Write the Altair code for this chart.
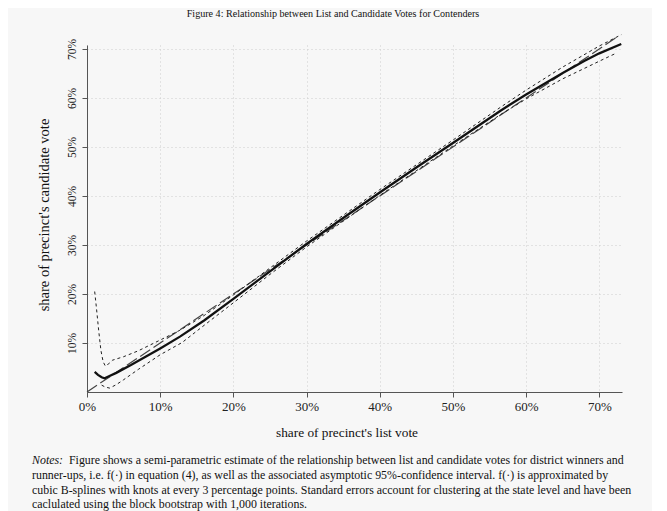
import altair as alt
import pandas as pd

# ---- data (percent units) ----
est_x = [1.05, 1.5, 2.0, 2.4, 3.0, 4.0, 6.0, 8.0, 10.0, 12.7, 16, 20, 25, 30, 35, 40, 45, 50, 56.5, 60, 65, 68, 70, 73]
est_y = [4.1, 3.5, 3.0, 2.8, 3.2, 3.9, 5.5, 7.2, 8.9, 11.3, 14.6, 19.0, 24.6, 30.2, 35.5, 40.7, 45.8, 50.8, 57.4, 60.7, 65.1, 67.6, 69.1, 71.0]

up_x = [1.05, 1.3, 1.6, 1.9, 2.2, 2.5, 3.0, 3.5, 5, 7, 10, 12.7, 16, 20, 25, 30, 40, 50, 56.5, 60, 65, 70, 73]
up_y = [20.5, 17.0, 12.5, 8.5, 6.2, 5.3, 5.8, 6.5, 7.2, 8.4, 10.6, 12.6, 15.6, 19.8, 25.3, 30.8, 41.3, 51.4, 58.1, 61.6, 66.3, 70.6, 72.9]

lo_x = [2.0, 2.5, 3.1, 4, 5, 7, 10, 13, 16, 20, 25, 30, 40, 50, 56.5, 60, 65, 70, 72.4]
lo_y = [1.4, 1.0, 0.8, 1.5, 2.5, 4.6, 7.6, 10.1, 13.6, 18.2, 24.0, 29.6, 40.1, 50.2, 56.6, 59.8, 63.9, 67.5, 69.2]

diag_x = [0, 72.6]
diag_y = [0, 72.6]

x_ticks = [0, 10, 20, 30, 40, 50, 60, 70]
y_ticks = [10, 20, 30, 40, 50, 60, 70]

title_text = "Figure 4: Relationship between List and Candidate Votes for Contenders"
x_title = "share of precinct's list vote"
y_title = "share of precinct's candidate vote"
notes_label = "Notes:"
notes_lines = [
    "Figure shows a semi-parametric estimate of the relationship between list and candidate votes for district winners and",
    "runner-ups, i.e. f(·)  in equation (4), as well as the associated asymptotic 95%-confidence interval.  f(·)  is approximated by",
    "cubic B-splines with knots at every 3 percentage points. Standard errors account for clustering at the state level and have been",
    "caclulated using the block bootstrap with 1,000 iterations.",
]

SERIF = "Liberation Serif"
W, H = 535, 347

est_df = pd.DataFrame({"x": est_x, "y": est_y})
up_df = pd.DataFrame({"x": up_x, "y": up_y})
lo_df = pd.DataFrame({"x": lo_x, "y": lo_y})
diag_df = pd.DataFrame({"x": diag_x, "y": diag_y})

xscale = alt.Scale(domain=[0, 73.1], nice=False, zero=False)
yscale = alt.Scale(domain=[0, 70.8], nice=False, zero=False)

GRID = dict(grid=True, gridColor="#cccccc", gridDash=[1, 3], gridWidth=1)
xaxis = alt.Axis(values=x_ticks, labelExpr="datum.value + '%'", title=None,
                 labelFont=SERIF, labelFontSize=13, labelColor="#222",
                 domainColor="#555", tickColor="#555", tickSize=5, labelPadding=3,
                 labelFlush=False, labelOverlap=False, **GRID)
yaxis = alt.Axis(values=y_ticks, labelExpr="datum.value + '%'", title=None,
                 labelFont=SERIF, labelFontSize=11.5, labelColor="#222",
                 labelAngle=270, labelAlign="center", labelBaseline="bottom",
                 domainColor="#555", tickColor="#555", tickSize=5, labelPadding=5,
                 labelFlush=False, labelOverlap=False, **GRID)

def line(df, **kw):
    return alt.Chart(df).mark_line(clip=False, **kw).encode(
        x=alt.X("x:Q", scale=xscale, axis=xaxis),
        y=alt.Y("y:Q", scale=yscale, axis=yaxis),
        order=alt.Order("x:Q"))

diag = line(diag_df, color="#444", strokeWidth=1.2, strokeDash=[12, 4])
upper = line(up_df, color="#222", strokeWidth=1.0, strokeDash=[3, 3])
lower = line(lo_df, color="#222", strokeWidth=1.0, strokeDash=[3, 3])
est = line(est_df, color="#111", strokeWidth=2.3)

def label(text, x, y, size, angle=None, align="center", style=None):
    kw = dict(text=text, font=SERIF, fontSize=size, color="#111", align=align, baseline="middle")
    if angle is not None:
        kw["angle"] = angle
    if style:
        kw["fontStyle"] = style
    return alt.Chart(pd.DataFrame({"t": [text]})).mark_text(**kw).encode(
        x=alt.value(x), y=alt.value(y))

NF = 11.9
texts = [
    label(title_text, 246, -31, 10.1),
    label(x_title, 260, 388, 13.3),
    label(y_title, -42, 170, 14.5, angle=270),
    label(notes_label, -55, 415, NF, align="left", style="italic"),
    label(notes_lines[0], -18, 415, NF, align="left"),
]
for i, t in enumerate(notes_lines[1:]):
    texts.append(label(t, -55, 430 + 14.5 * i, NF, align="left"))

chart = alt.layer(diag, upper, lower, est, *texts).properties(
    width=W, height=H,
    background="#f7f7f7",
    padding={"left": 79, "top": 37, "right": 30, "bottom": 121},
    autosize=alt.AutoSizeParams(type="none"),
).configure_view(stroke=None)

chart.save("out.html", embed_options={"renderer": "svg", "actions": False})
